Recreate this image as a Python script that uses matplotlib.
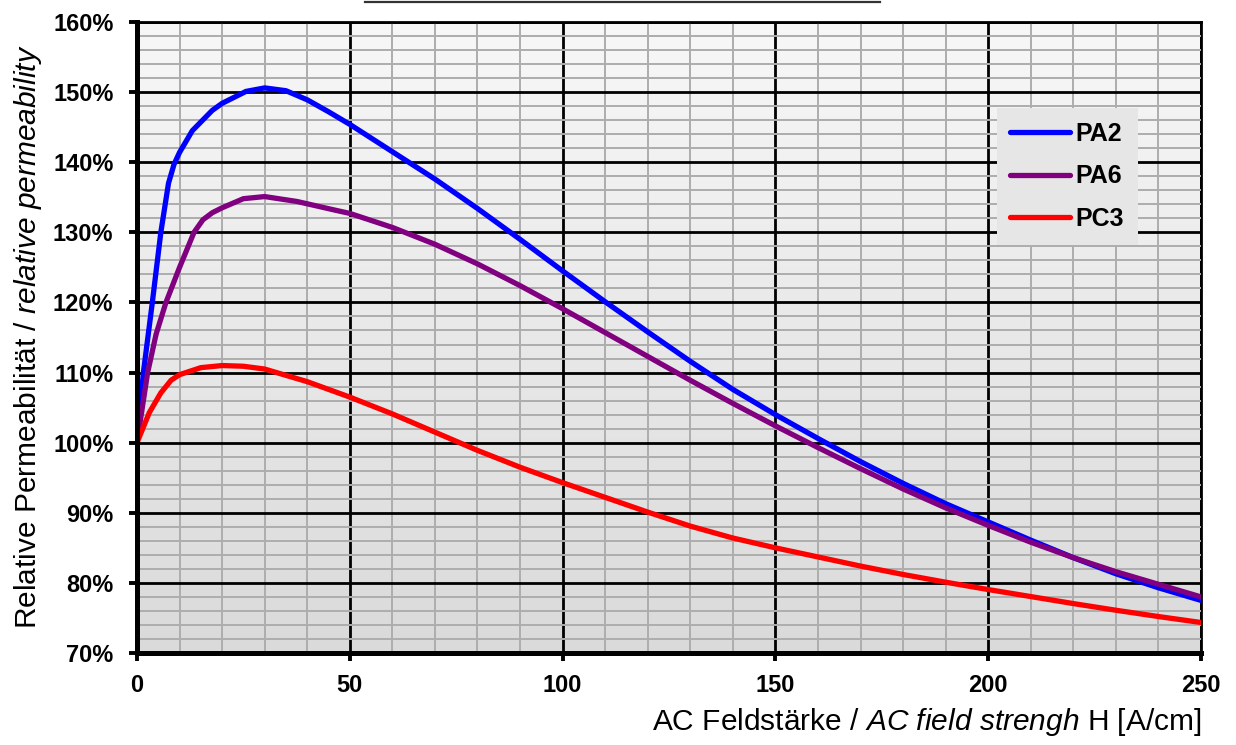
#!/usr/bin/env python3
"""
Relative Permeabilitaet ueber AC Feldstaerke fuer PA2, PA6, PC3
"""

import numpy as np
import matplotlib
matplotlib.use("Agg")
import matplotlib.pyplot as plt
from matplotlib.lines import Line2D
from matplotlib.ticker import MultipleLocator, FuncFormatter

plt.rcParams["font.family"] = ["Liberation Sans", "DejaVu Sans"]
plt.rcParams["mathtext.fontset"] = "custom"
plt.rcParams["mathtext.rm"] = "Liberation Sans"
plt.rcParams["mathtext.it"] = "Liberation Sans:italic"

# Daten  H in A/cm, Permeabilitaet in %
h_pa2 = [0, 1.5, 3.6, 5.6, 7.4, 8.7, 10, 13, 17.7, 20, 25.6, 30, 35, 40, 45, 50, 60, 70, 80, 90,
         100, 110, 120, 130, 140, 150, 160, 170, 180, 190, 200, 210, 220, 230, 240, 250]
mu_pa2 = [100, 110, 120, 130, 137.0, 139.7, 141.4, 144.5, 147.4, 148.4, 150.1, 150.6, 150.2, 148.9,
          147.2, 145.4, 141.5, 137.6, 133.4, 129.0, 124.5, 120.1, 115.8, 111.6, 107.6, 104.0,
          100.6, 97.3, 94.2, 91.3, 88.7, 86.1, 83.6, 81.3, 79.3, 77.5]

h_pa6 = [0, 1, 2.5, 4.5, 6.8, 10, 13.4, 15.5, 17.7, 20, 25, 30, 37.6, 47, 50, 60, 70, 80, 90,
         100, 110, 120, 130, 140, 150, 160, 170, 180, 190, 200, 210, 220, 230, 240, 250]
mu_pa6 = [100, 104, 110, 115.5, 120, 125, 130, 131.8, 132.8, 133.5, 134.8, 135.1, 134.4, 133.1,
          132.7, 130.7, 128.3, 125.5, 122.4, 119.1, 115.7, 112.3, 108.9, 105.6, 102.4, 99.3,
          96.3, 93.4, 90.7, 88.2, 85.8, 83.6, 81.6, 79.8, 78.0]

h_pc3 = [0, 2.9, 5.6, 8, 10, 15, 20, 25, 30, 40, 50, 60, 70, 80, 90, 100, 110, 120, 130,
         140, 150, 160, 170, 180, 190, 200, 210, 220, 230, 240, 250]
mu_pc3 = [100, 104.3, 107.1, 108.9, 109.7, 110.7, 111.0, 110.9, 110.5, 108.7, 106.5, 104.1,
          101.5, 98.9, 96.5, 94.3, 92.2, 90.1, 88.1, 86.4, 85.0, 83.7, 82.4, 81.2, 80.1,
          79.05, 78.05, 77.05, 76.1, 75.2, 74.35]

series = [("PA2", h_pa2, mu_pa2, "#0000ff"),
          ("PA6", h_pa6, mu_pa6, "#800080"),
          ("PC3", h_pc3, mu_pc3, "#ff0000")]

X_RANGE = (0, 250)
Y_RANGE = (70, 160)

fig = plt.figure(figsize=(12.36, 7.45), dpi=100)
ax = fig.add_axes([137 / 1236, 1 - 653 / 745, 1064 / 1236, 631 / 745])

# Hintergrund-Verlauf (hell oben, grau unten)
grad = np.linspace(0, 1, 256).reshape(-1, 1)
top_c = np.array([0.97, 0.97, 0.97])
bot_c = np.array([0.855, 0.855, 0.855])
img = (top_c + (bot_c - top_c) * grad).reshape(256, 1, 3)
ax.imshow(img, extent=[*X_RANGE, *Y_RANGE], aspect="auto", origin="upper", zorder=0)

ax.set_xlim(*X_RANGE)
ax.set_ylim(*Y_RANGE)

ax.xaxis.set_major_locator(MultipleLocator(50))
ax.xaxis.set_minor_locator(MultipleLocator(10))
ax.yaxis.set_major_locator(MultipleLocator(10))
ax.yaxis.set_minor_locator(MultipleLocator(2))
ax.yaxis.set_major_formatter(FuncFormatter(lambda v, p: f"{v:.0f}%"))

ax.grid(which="minor", color="#adadad", lw=1.4, zorder=1)
ax.grid(which="major", color="black", lw=2.0, zorder=2)
ax.set_axisbelow(False)

for name, h, mu, col in series:
    ax.plot(h, mu, color=col, lw=3.8, label=name, zorder=4,
            solid_capstyle="round", solid_joinstyle="round")

for side in ("left", "bottom"):
    ax.spines[side].set_linewidth(3.6)
    ax.spines[side].set_zorder(5)
for side in ("top", "right"):
    ax.spines[side].set_linewidth(2.0)

ax.tick_params(which="major", direction="out", length=6, width=2.8, pad=9,
               labelsize=17)
ax.tick_params(axis="y", which="major", pad=11)
ax.tick_params(which="minor", length=0)
for lab in ax.get_xticklabels() + ax.get_yticklabels():
    lab.set_fontweight("bold")

ax.set_xlabel(r"AC Feldstärke / $\mathit{AC\ field\ strengh}$ H [A/cm]", fontsize=21.5,
              ha="right", va="center")
ax.xaxis.set_label_coords(1.0, -(722 - 653) / 631)
ax.set_ylabel(r"Relative Permeabilität / $\mathit{relative\ permeability}$", fontsize=21.5,
              va="center")
ax.yaxis.set_label_coords(-(137 - 28) / 1064, 0.502)

leg = ax.legend(loc="upper left", bbox_to_anchor=(0.808, 0.864), borderaxespad=0,
                frameon=True, fancybox=False, facecolor="#e6e6e6", edgecolor="none",
                framealpha=1, prop={"weight": "bold", "size": 18}, handlelength=2.4,
                handletextpad=0.2, labelspacing=0.75, borderpad=0.55)
leg.set_zorder(6)

# Rest einer Titel-Unterstreichung am oberen Rand
fig.add_artist(Line2D([365 / 1236, 880 / 1236], [1 - 1.5 / 745, 1 - 1.5 / 745],
                      color="#333333", lw=1.6, transform=fig.transFigure))

fig.savefig("out.png", dpi=100)
